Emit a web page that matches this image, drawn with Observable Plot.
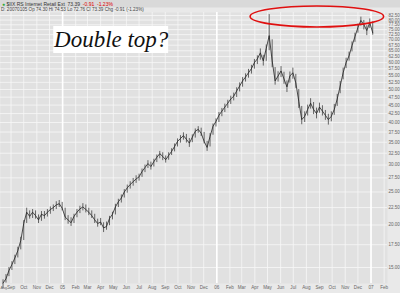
<!DOCTYPE html>
<html><head><meta charset="utf-8">
<script src="https://cdn.jsdelivr.net/npm/d3@7"></script>
<script src="https://cdn.jsdelivr.net/npm/@observablehq/plot@0.6"></script>
<style>
body{margin:0;background:#e8e8e8;}
#chart svg{display:block;}
</style></head><body><div id="chart"></div>
<script>
const dates = [
"2004-08-13","2004-08-20","2004-08-27","2004-09-03","2004-09-10","2004-09-17","2004-09-24","2004-10-01","2004-10-08","2004-10-15","2004-10-22","2004-10-29","2004-11-05","2004-11-12","2004-11-19","2004-11-26","2004-12-03","2004-12-10","2004-12-17","2004-12-24","2004-12-31",
"2005-01-07","2005-01-14","2005-01-21","2005-01-28","2005-02-04","2005-02-11","2005-02-18","2005-02-25","2005-03-04","2005-03-11","2005-03-18","2005-03-25","2005-04-01","2005-04-08","2005-04-15","2005-04-22","2005-04-29","2005-05-06","2005-05-13","2005-05-20","2005-05-27","2005-06-03","2005-06-10","2005-06-17","2005-06-24","2005-07-01","2005-07-08","2005-07-15","2005-07-22","2005-07-29","2005-08-05","2005-08-12","2005-08-19","2005-08-26","2005-09-02","2005-09-09","2005-09-16","2005-09-23","2005-09-30","2005-10-07","2005-10-14","2005-10-21","2005-10-28","2005-11-04","2005-11-11","2005-11-18","2005-11-25","2005-12-02","2005-12-09","2005-12-16","2005-12-23","2005-12-30",
"2006-01-06","2006-01-13","2006-01-20","2006-01-27","2006-02-03","2006-02-10","2006-02-17","2006-02-24","2006-03-03","2006-03-10","2006-03-17","2006-03-24","2006-03-31","2006-04-07","2006-04-14","2006-04-21","2006-04-28","2006-05-05","2006-05-12","2006-05-19","2006-05-26","2006-06-02","2006-06-09","2006-06-16","2006-06-23","2006-06-30","2006-07-07","2006-07-14","2006-07-21","2006-07-28","2006-08-04","2006-08-11","2006-08-18","2006-08-25","2006-09-01","2006-09-08","2006-09-15","2006-09-22","2006-09-29","2006-10-06","2006-10-13","2006-10-20","2006-10-27","2006-11-03","2006-11-10","2006-11-17","2006-11-24","2006-12-01","2006-12-08","2006-12-15","2006-12-22","2006-12-29",
"2007-01-05"];
const lows = [
13.0,13.5,14.1,14.7,15.3,16.0,16.9,18.0,20.2,20.8,20.9,20.8,20.2,20.5,20.8,21.1,21.5,21.9,22.2,22.5,22.0,
20.6,20.1,19.8,20.2,21.0,21.6,22.0,21.7,21.3,20.9,20.2,19.7,19.9,19.0,19.3,19.9,20.7,21.4,22.5,23.2,24.0,24.8,25.5,26.0,26.5,26.9,27.6,28.5,29.3,29.0,29.6,30.5,31.3,30.9,30.4,31.0,32.0,32.8,33.9,34.8,35.5,34.8,33.8,34.9,36.0,37.2,36.4,34.6,32.9,33.9,36.7,38.8,
40.0,41.6,42.8,44.0,45.2,46.3,47.4,49.2,50.8,52.6,54.0,55.5,57.4,59.2,61.0,58.6,60.5,65.0,58.0,51.5,52.6,54.2,51.8,49.0,52.2,53.6,50.4,44.0,39.4,40.0,41.8,43.8,42.2,41.0,42.6,41.8,40.6,39.3,40.2,42.0,44.6,48.6,53.4,57.6,60.6,64.5,68.8,73.2,76.8,74.8,72.0,75.6,
72.2];
const highs = [
13.8,14.3,15.0,15.6,16.3,17.2,18.4,20.6,22.4,22.0,22.2,22.0,21.4,21.9,21.9,22.2,22.6,22.9,23.4,23.6,23.3,
22.4,21.3,21.0,21.5,22.2,22.7,23.1,22.9,22.4,22.0,21.5,20.8,20.9,20.3,20.4,21.2,21.8,23.0,23.8,24.5,25.4,26.2,26.8,27.4,27.9,28.2,29.2,30.0,30.9,30.6,31.2,32.1,32.9,32.6,31.9,32.6,33.5,34.6,35.8,36.6,37.3,36.9,35.9,36.8,38.3,38.9,38.5,37.4,35.2,37.1,39.6,41.0,
42.8,44.0,45.3,46.5,47.8,48.8,50.6,52.3,54.2,55.6,57.3,58.9,61.3,62.8,65.8,63.0,67.6,83.0,70.0,58.0,56.4,58.4,56.2,53.0,56.3,57.8,55.4,50.0,44.6,43.0,45.0,47.0,45.8,44.1,45.6,44.8,43.4,42.3,43.0,45.2,48.4,52.8,57.8,61.8,64.4,69.0,73.2,77.8,81.6,79.8,77.0,80.6,
79.0];
const closes = [
13.5,13.9,14.7,15.3,16.0,16.8,18.0,20.2,21.8,21.2,21.8,21.3,20.7,21.5,21.3,21.8,22.2,22.5,22.9,23.1,22.4,
21.1,20.7,20.3,21.2,21.8,22.3,22.6,22.2,21.8,21.3,20.7,20.2,20.4,19.6,19.8,20.9,21.5,22.6,23.4,24.0,25.0,25.7,26.3,26.8,27.3,27.7,28.7,29.5,30.3,29.7,30.7,31.6,32.4,31.8,31.1,32.0,32.9,34.0,35.2,35.9,36.6,35.7,34.8,36.2,37.7,38.2,37.2,35.2,33.8,36.4,39.0,40.3,
42.0,43.2,44.4,45.6,46.9,47.8,49.5,51.2,53.0,54.4,56.0,57.6,60.0,61.5,64.1,60.7,66.0,72.0,60.7,53.0,54.8,56.7,53.7,50.9,54.8,56.0,52.3,46.2,40.8,41.7,43.7,45.6,43.7,42.5,44.4,43.2,42.0,40.8,41.7,43.7,46.9,51.2,56.0,60.0,62.8,67.3,71.5,76.1,79.8,77.6,74.5,78.7,
73.4];

const yTicks = [15,17.5,20,22.5,25,27.5,30,32.5,35,37.5,40,42.5,45,47.5,50,52.5,55,57.5,60,62.5,65,67.5,70,72.5,75,77.5,80,82.5];
const monthTicks = ["2004-08-01","2004-09-01","2004-10-01","2004-11-01","2004-12-01",
"2005-01-01","2005-02-01","2005-03-01","2005-04-01","2005-05-01","2005-06-01","2005-07-01","2005-08-01","2005-09-01","2005-10-01","2005-11-01","2005-12-01",
"2006-01-01","2006-02-01","2006-03-01","2006-04-01","2006-05-01","2006-06-01","2006-07-01","2006-08-01","2006-09-01","2006-10-01","2006-11-01","2006-12-01",
"2007-01-01","2007-02-01"];
const yearTicks = ["2005-01-01","2006-01-01","2007-01-01"];
const headerName = "$IIX RS Internet Retail Ext";
const headerLast = "73.39";
const headerChange = "-0.91  -1.23%";
const headerLine2 = "D: 20070105 Op 74.30 Hi 74.53 Lo 72.76 Cl 73.39 Chg -0.91 (-1.23%)";
const noteText = "Double top?";
const noteBox = {x1:"2004-12-11", x2:"2005-09-09", y1:76.6, y2:63.8};
const notePos = {x:"2005-04-26", y:70.2};
const ring = {x1:"2006-03-22", x2:"2007-02-01", y1:87.7, y2:76.1};

const P = s => new Date(s + "T00:00:00");
const data = dates.map((d,i) => ({date:P(d), low:lows[i], high:highs[i], close:closes[i]}));
const months = monthTicks.map(P);
const years = yearTicks.map(P);
const fmtMonth = d3.timeFormat("%b"), fmtYear = d3.timeFormat("%y");
const tickFmt = d => d.getMonth() === 0 ? fmtYear(d) : fmtMonth(d);

const W = 400, H = 293;
const chart = Plot.plot({
  width: W, height: H,
  marginTop: 12, marginBottom: 10, marginLeft: 0, marginRight: 13,
  style: {background: "#e9e9e9", fontFamily: "Liberation Sans, Arial, sans-serif", overflow: "visible"},
  x: {type: "utc", domain: [P("2004-08-07"), P("2007-02-09")]},
  y: {type: "log", domain: [13.46, 84.2]},
  marks: [
    Plot.frame({fill: "#e1e1e1", stroke: null}),
    Plot.ruleY(yTicks, {stroke: "#f7f7f7", strokeWidth: 0.8}),
    Plot.ruleX(months, {stroke: "#f7f7f7", strokeWidth: 0.8}),
    Plot.ruleX(years, {stroke: "#ffffff", strokeWidth: 1.6}),
    Plot.axisY(yTicks, {anchor: "right", tickSize: 0, tickPadding: 1, tickFormat: d => d.toFixed(2), fontSize: 4.5, color: "#666", label: null}),
    Plot.axisX(months.slice(1), {anchor: "bottom", tickSize: 0, tickPadding: 2, tickFormat: tickFmt, fontSize: 4.6, color: "#666", label: null}),
    Plot.axisX(months.slice(0, 1), {anchor: "bottom", tickSize: 0, tickPadding: 2.4, tickFormat: tickFmt, fontSize: 3.7, color: "#666", label: null, textAnchor: "start", dx: 2.5}),
    Plot.rect([noteBox], {x1: d => P(d.x1), x2: d => P(d.x2), y1: "y1", y2: "y2", fill: "white"}),
    Plot.text([notePos], {x: d => P(d.x), y: "y", text: () => noteText, fontSize: 23, fontStyle: "italic", fontFamily: "Liberation Serif, serif", fill: "#111"}),
    Plot.ruleX(data, {x: "date", y1: "low", y2: "high", stroke: "#555", strokeWidth: 0.9}),
    Plot.line(data, {x: "date", y: "close", stroke: "#222", strokeWidth: 0.8})
  ]
});
document.getElementById("chart").appendChild(chart);

const svg = d3.select(chart);
// header band
svg.insert("rect", ":first-child").attr("x", 0).attr("y", 0).attr("width", W).attr("height", 7.5).attr("fill", "#d9d9d9");
const t1 = svg.append("text").attr("x", 2).attr("y", 5.6).attr("font-size", 5).attr("text-anchor", "start").attr("fill", "#333");
t1.append("tspan").attr("fill", "#3a3").text("\u25CF ");
t1.append("tspan").text(headerName + "  " + headerLast + "  ");
t1.append("tspan").attr("fill", "#d00").text(headerChange);
svg.append("text").attr("x", 1).attr("y", 11.3).attr("font-size", 4.6).attr("text-anchor", "start").attr("fill", "#444").text(headerLine2);

// red ring annotation positioned through the plot's scales
const xs = chart.scale("x"), ys = chart.scale("y");
const rx1 = xs.apply(P(ring.x1)), rx2 = xs.apply(P(ring.x2));
const ry1 = ys.apply(ring.y1), ry2 = ys.apply(ring.y2);
svg.append("ellipse")
  .attr("cx", (rx1 + rx2) / 2).attr("cy", (ry1 + ry2) / 2)
  .attr("rx", Math.abs(rx2 - rx1) / 2).attr("ry", Math.abs(ry2 - ry1) / 2)
  .attr("fill", "none").attr("stroke", "#e01010").attr("stroke-width", 1.6);
</script></body></html>
